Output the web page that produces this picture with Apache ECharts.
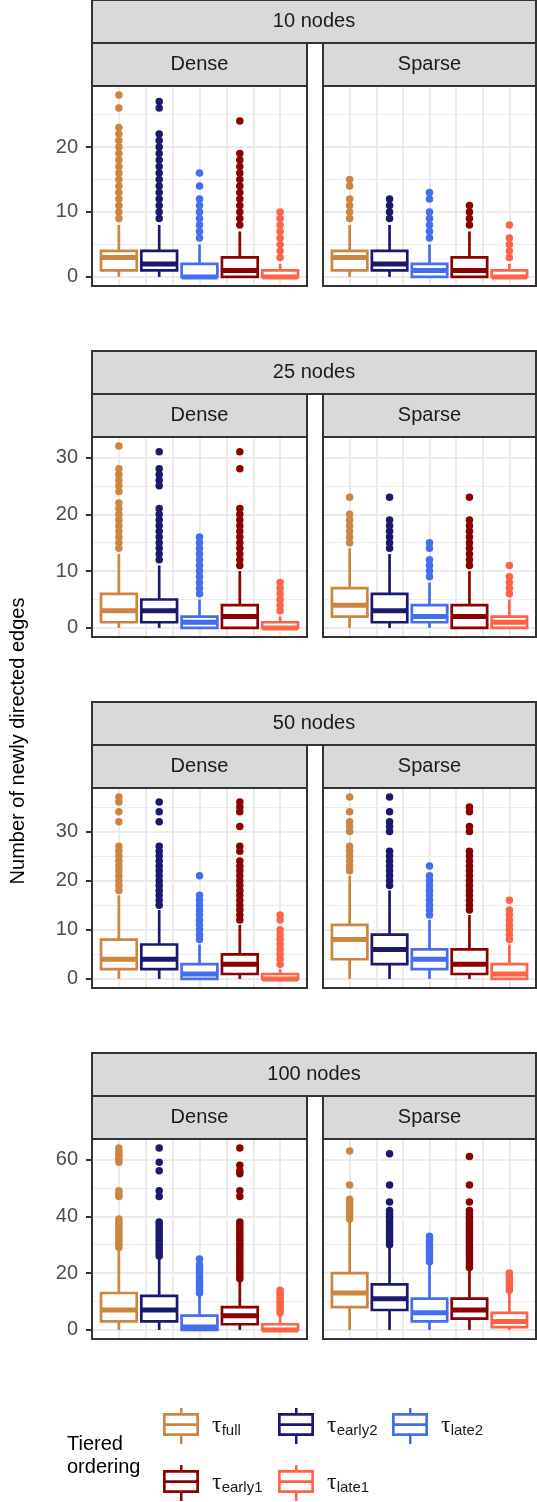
<!DOCTYPE html>
<html><head><meta charset="utf-8">
<script src="https://cdn.jsdelivr.net/npm/echarts@6/dist/echarts.min.js"></script>
<style>html,body{margin:0;padding:0;background:#fff}#c{width:537px;height:1502px}</style>
</head><body><div id="c"></div>
<script>
// ---------- data ----------
const orderings = ['full', 'early2', 'late2', 'early1', 'late1'];
const orderingColors = ['#CD853F', '#191970', '#436EEE', '#8B0000', '#FF6347'];
const nodeLabels = ['10 nodes', '25 nodes', '50 nodes', '100 nodes'];
const densityLabels = ['Dense', 'Sparse'];
const yAxisTitle = 'Number of newly directed edges';
const legendTitle = 'Tiered\nordering';

const yTicks10 = [0, 10, 20];
const yTicks25 = [0, 10, 20, 30];
const yTicks50 = [0, 10, 20, 30];
const yTicks100 = [0, 20, 40, 60];
const yMinor10 = [5, 15, 25];
const yMinor25 = [5, 15, 25];
const yMinor50 = [5, 15, 25, 35];
const yMinor100 = [10, 30, 50];

// [lower whisker, Q1, median, Q3, upper whisker] per ordering
const box10Dense = [[0,1,3,4,8],[0,1,2,4,8],[0,0,0,2,5],[0,0,1,3,7],[0,0,0,1,2]];
const box10Sparse = [[0,1,3,4,8],[0,1,2,4,8],[0,0,1,2,5],[0,0,1,3,7],[0,0,0,1,2]];
const box25Dense = [[0,1,3,6,13],[0,1,3,5,11],[0,0,1,2,5],[0,0,2,4,10],[0,0,0,1,2]];
const box25Sparse = [[0,2,4,7,14],[0,1,3,6,13],[0,1,2,4,8],[0,0,2,4,10],[0,0,1,2,5]];
const box50Dense = [[0,2,4,8,17],[0,2,4,7,14],[0,0,1,3,7],[0,1,3,5,11],[0,0,0,1,2]];
const box50Sparse = [[0,4,8,11,21],[0,3,6,9,18],[0,2,4,6,12],[0,1,3,6,13],[0,0,1,3,7]];
const box100Dense = [[0,3,7,13,28],[0,3,7,12,25],[0,0,1,5,12],[0,2,5,8,17],[0,0,0,2,5]];
const box100Sparse = [[0,8,13,20,38],[0,7,11,16,29],[0,3,6,11,23],[0,4,7,11,21],[0,1,3,6,13]];

// outlier values per ordering
const out10Dense = [
  [9,10,11,12,13,14,15,16,17,18,19,20,21,22,23,26,28],
  [9,10,11,12,13,14,15,16,17,18,19,20,21,22,26,27],
  [6,7,8,9,10,11,12,14,16],
  [8,9,10,11,12,13,14,15,16,17,18,19,24],
  [3,4,5,6,7,8,9,10]
];
const out10Sparse = [
  [9,10,11,12,14,15],
  [9,10,11,12],
  [6,7,8,9,10,12,13],
  [8,9,10,11],
  [3,4,5,6,8]
];
const out25Dense = [
  [14,15,16,17,18,19,20,21,22,24,25,26,27,28,32],
  [12,13,14,15,16,17,18,19,20,21,25,26,27,28,31],
  [6,7,8,9,10,11,12,13,14,15,16],
  [11,12,13,14,15,16,17,18,19,20,21,28,31],
  [3,4,5,6,7,8]
];
const out25Sparse = [
  [15,16,17,18,19,20,23],
  [14,15,16,17,18,19,23],
  [9,10,11,12,14,15],
  [11,12,13,14,15,16,17,18,19,23],
  [6,7,8,9,11]
];
const out50Dense = [
  [18,19,20,21,22,23,24,25,26,27,32,34,36,37],
  [15,16,17,18,19,20,21,22,23,24,25,26,27,32,34,36],
  [8,9,10,11,12,13,14,15,16,17,21],
  [12,13,14,15,16,17,18,19,20,21,22,23,24,26,27,31,34,35,36],
  [3,4,5,6,7,8,9,10,12,13]
];
const out50Sparse = [
  [22,23,24,25,26,27,30,31,32,34,37],
  [19,20,21,22,23,24,25,26,30,31,32,34,37],
  [13,14,15,16,17,18,19,20,21,23],
  [14,15,16,17,18,19,20,21,22,23,24,25,26,30,31,34,35],
  [8,9,10,11,12,13,14,16]
];
const out100Dense = [
  [29,30,31,32,33,34,35,36,37,38,39,47,48,49,59,60,61,62,63,64],
  [26,27,28,29,30,31,32,33,34,35,36,37,38,47,49,56,59,64],
  [13,14,15,16,17,18,19,20,21,22,23,25],
  [18,19,20,21,22,23,24,25,26,27,28,29,30,31,32,33,34,35,36,37,38,47,49,55,56,58,64],
  [6,7,8,9,10,11,12,13,14]
];
const out100Sparse = [
  [39,40,41,42,43,44,45,46,51,63],
  [30,31,32,33,34,35,36,37,38,39,40,41,42,45,51,62],
  [24,25,26,27,28,29,30,31,32,33],
  [22,23,24,25,26,27,28,29,30,31,32,33,34,35,36,37,38,39,40,41,42,45,51,61],
  [14,15,16,17,18,19,20]
];

// ---------- layout ----------
const FONT = '"Liberation Sans", Arial, Helvetica, sans-serif';
const SERIF = '"Liberation Serif", "DejaVu Serif", serif';
const panelTops = [86, 437, 788, 1139];
const panelH = 200;
const facetLeft = [92, 323];
const facetW = [215, 213];
const stripH = 43;
const boxWidthUnits = 1.33;
const LW = 2.7;
function boxX(i) { return 1 + 1.5 * i; }

const rows = [
  { box: [box10Dense, box10Sparse], out: [out10Dense, out10Sparse], ticks: yTicks10, minor: yMinor10 },
  { box: [box25Dense, box25Sparse], out: [out25Dense, out25Sparse], ticks: yTicks25, minor: yMinor25 },
  { box: [box50Dense, box50Sparse], out: [out50Dense, out50Sparse], ticks: yTicks50, minor: yMinor50 },
  { box: [box100Dense, box100Sparse], out: [out100Dense, out100Sparse], ticks: yTicks100, minor: yMinor100 }
];

const grids = [], xAxes = [], yAxes = [], series = [], graphics = [];

rows.forEach((row, r) => {
  let hi = 0;
  [0, 1].forEach(f => {
    row.box[f].forEach(b => { hi = Math.max(hi, b[4]); });
    row.out[f].forEach(o => o.forEach(v => { hi = Math.max(hi, v); }));
  });
  const pad = 0.05 * hi;
  const yMin = -pad, yMax = hi + pad;

  [0, 1].forEach(f => {
    const gi = r * 2 + f;
    grids.push({ left: facetLeft[f], top: panelTops[r], width: facetW[f], height: panelH, show: false });
    xAxes.push({
      gridIndex: gi, type: 'value', min: 0, max: 8, interval: 1,
      axisLabel: { show: false }, axisTick: { show: false }, axisLine: { show: false },
      splitLine: { show: true, lineStyle: { color: '#EBEBEB', width: 2 } }
    });
    yAxes.push({
      gridIndex: gi, type: 'value', min: yMin, max: yMax,
      axisLine: { show: false },
      axisLabel: { show: f === 0, customValues: row.ticks, color: '#4D4D4D', fontSize: 20, fontFamily: FONT, margin: 14 },
      axisTick: { show: f === 0, customValues: row.ticks, length: 6, lineStyle: { color: '#333333', width: 2 } },
      splitLine: { show: true, lineStyle: { color: '#EBEBEB', width: 2 } }
    });
    yAxes.push({
      gridIndex: gi, type: 'value', min: yMin, max: yMax,
      axisLine: { show: false },
      axisLabel: { show: false, customValues: row.minor },
      axisTick: { show: false, customValues: row.minor },
      splitLine: { show: true, lineStyle: { color: '#EBEBEB', width: 1 } }
    });
    const yIdx = gi * 2;
    orderings.forEach((name, i) => {
      const color = orderingColors[i];
      series.push({
        name: name, type: 'scatter', xAxisIndex: gi, yAxisIndex: yIdx,
        symbolSize: 7.5, itemStyle: { color: color, opacity: 1 }, z: 2, silent: true,
        data: row.out[f][i].map(v => [boxX(i), v])
      });
      const b = row.box[f][i];
      series.push({
        name: name, type: 'custom', xAxisIndex: gi, yAxisIndex: yIdx, z: 3, silent: true,
        itemStyle: { color: color, opacity: 1 },
        encode: { x: 0, y: [1, 2, 3, 4, 5] },
        data: [[boxX(i), b[0], b[1], b[2], b[3], b[4]]],
        renderItem: function (params, api) {
          const x = api.value(0);
          const lo = api.coord([x, api.value(1)]);
          const q1 = api.coord([x, api.value(2)]);
          const md = api.coord([x, api.value(3)]);
          const q3 = api.coord([x, api.value(4)]);
          const up = api.coord([x, api.value(5)]);
          const w = api.size([boxWidthUnits, 0])[0];
          const c = api.visual('color');
          return {
            type: 'group', children: [
              { type: 'line', shape: { x1: lo[0], y1: lo[1], x2: q1[0], y2: q1[1] }, style: { stroke: c, lineWidth: LW, opacity: 1 } },
              { type: 'line', shape: { x1: q3[0], y1: q3[1], x2: up[0], y2: up[1] }, style: { stroke: c, lineWidth: LW, opacity: 1 } },
              { type: 'rect', shape: { x: q1[0] - w / 2, y: q3[1], width: w, height: q1[1] - q3[1] }, style: { fill: '#ffffff', stroke: c, lineWidth: LW, opacity: 1 } },
              { type: 'line', shape: { x1: md[0] - w / 2, y1: md[1], x2: md[0] + w / 2, y2: md[1] }, style: { stroke: c, lineWidth: 5, opacity: 1 } }
            ]
          };
        }
      });
    });

    // facet strip
    graphics.push({
      type: 'rect', z: 20,
      shape: { x: facetLeft[f], y: panelTops[r] - stripH, width: facetW[f], height: stripH },
      style: { fill: '#D9D9D9', stroke: '#333333', lineWidth: 2 }
    });
    graphics.push({
      type: 'text', z: 21, x: facetLeft[f] + facetW[f] / 2, y: panelTops[r] - stripH / 2,
      style: { text: densityLabels[f], fill: '#1A1A1A', fontSize: 20, fontFamily: FONT, align: 'center', verticalAlign: 'middle' }
    });
    // panel border
    graphics.push({
      type: 'rect', z: 30,
      shape: { x: facetLeft[f], y: panelTops[r], width: facetW[f], height: panelH },
      style: { fill: 'none', stroke: '#333333', lineWidth: 2 }
    });
  });

  // top strip
  const tl = facetLeft[0], tw = facetLeft[1] + facetW[1] - facetLeft[0];
  graphics.push({
    type: 'rect', z: 20,
    shape: { x: tl, y: panelTops[r] - 2 * stripH, width: tw, height: stripH },
    style: { fill: '#D9D9D9', stroke: '#333333', lineWidth: 2 }
  });
  graphics.push({
    type: 'text', z: 21, x: tl + tw / 2, y: panelTops[r] - 1.5 * stripH,
    style: { text: nodeLabels[r], fill: '#1A1A1A', fontSize: 20, fontFamily: FONT, align: 'center', verticalAlign: 'middle' }
  });
});

// axis title
graphics.push({
  type: 'text', x: 18, y: 741, rotation: Math.PI / 2,
  style: { text: yAxisTitle, fill: '#000000', fontSize: 20, fontFamily: FONT, align: 'center', verticalAlign: 'middle' }
});
// legend title
graphics.push({
  type: 'text', x: 67, y: 1456,
  style: { text: legendTitle, fill: '#000000', fontSize: 20, lineHeight: 23, fontFamily: FONT, align: 'left', verticalAlign: 'middle' }
});

const boxIcon = 'path://M17 0L19.5 0L19.5 6L17 6Z M0 5L36 5L36 28L0 28Z M2.7 7.7L2.7 25.3L33.3 25.3L33.3 7.7Z M0 15.3L36 15.3L36 18L0 18Z M17 28L19.5 28L19.5 36L17 36Z';
const legendPos = [[163, 1408], [278, 1408], [392, 1408], [163, 1465], [278, 1465]];
const legends = orderings.map((name, i) => ({
  left: legendPos[i][0], top: legendPos[i][1], padding: 0, selectedMode: false,
  itemWidth: 36, itemHeight: 36, itemStyle: { borderWidth: 0, opacity: 1 },
  data: [{ name: name, icon: boxIcon, itemStyle: { color: orderingColors[i], opacity: 1 } }],
  formatter: n => '{t|τ}{s|' + n + '}',
  textStyle: {
    fontFamily: FONT,
    rich: {
      t: { fontSize: 24, color: '#1A1A1A', fontFamily: SERIF, padding: [0, 0, 0, 8] },
      s: { fontSize: 15, color: '#1A1A1A', fontFamily: FONT, padding: [10, 0, 0, 0] }
    }
  }
}));

const chart = echarts.init(document.getElementById('c'), null, { renderer: 'canvas' });
chart.setOption({
  animation: false,
  backgroundColor: '#ffffff',
  textStyle: { fontFamily: FONT },
  grid: grids, xAxis: xAxes, yAxis: yAxes,
  legend: legends,
  series: series,
  graphic: { elements: graphics }
});
</script></body></html>
